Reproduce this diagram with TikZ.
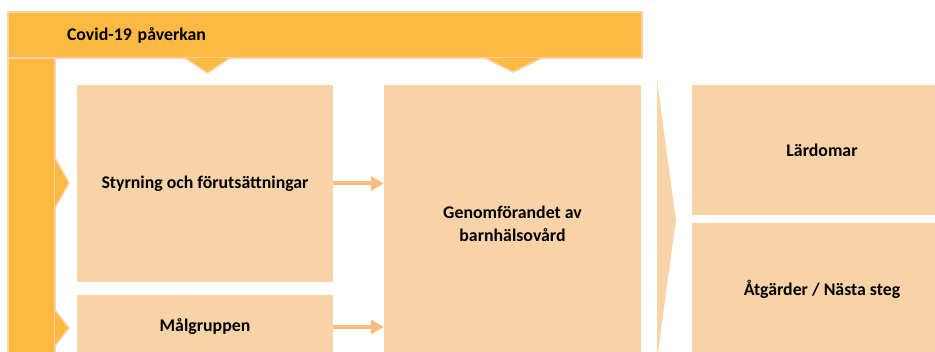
\documentclass[tikz,border=0pt]{standalone}
\usepackage{fontspec}
\setmainfont{Carlito}
\usepackage{tikz}
\usetikzlibrary{positioning}
\usetikzlibrary{arrows.meta}
\definecolor{covidorange}{HTML}{FDB942}
\definecolor{peach}{HTML}{F8D3A7}
\definecolor{arrowpeach}{HTML}{F5BE7D}

\begin{document}
\begin{tikzpicture}[x=1pt, y=-1pt,
	box/.style={rectangle, fill=peach, inner sep=0pt, align=center,
		font=\fontsize{17.8}{23.5}\selectfont\bfseries},
	banner/.style={rectangle, fill=covidorange, draw=peach, line width=1.5pt,
		inner sep=0pt, font=\fontsize{17.8}{23.5}\selectfont\bfseries},
	pointer/.style={fill=covidorange, draw=peach, line width=1.5pt, line join=miter},
	flow/.style={draw=arrowpeach, line width=4pt, -{Triangle[length=13pt,width=14pt]}}]
	\useasboundingbox (0,0) rectangle (935,352);
	\clip (0,0) rectangle (935,352);
	% left bar and covid banner
	\draw[pointer] (8,58) rectangle (55,370);
	\draw[pointer] (55,158) -- (69,183) -- (55,208);
	\draw[pointer] (55,310) -- (69,328) -- (55,346);
	\node[banner, minimum width=634pt, minimum height=46pt, text width=516pt,
		inner xsep=59pt, align=left] (covid) at (325,35) {Covid-19 påverkan};
	\draw[pointer] (185,58) -- (207.5,73) -- (230,58);
	\draw[pointer] (485,58) -- (513,72) -- (542,58);
	% boxes
	\node[box, minimum width=256pt, minimum height=197pt] (styr) at (205,183.5) {Styrning och förutsättningar};
	\node[box, minimum width=256pt, minimum height=64pt] (mal) at (205,327) {Målgruppen};
	\node[box, minimum width=257pt, minimum height=278pt] (genom) at (512.5,224) {Genomförandet av\\barnhälsovård};
	\node[box, minimum width=260pt, minimum height=130pt] (lard) at (822,150) {Lärdomar};
	\node[box, minimum width=260pt, minimum height=132pt] (atg) at (822,289) {Åtgärder / Nästa steg};
	% chevron
	\fill[peach] (657,81) -- (676,220) -- (657,359) -- cycle;
	% arrows
	\draw[flow] (styr.east) -- (styr.east -| genom.west);
	\draw[flow] (mal.east) -- (mal.east -| genom.west);
\end{tikzpicture}
\end{document}
